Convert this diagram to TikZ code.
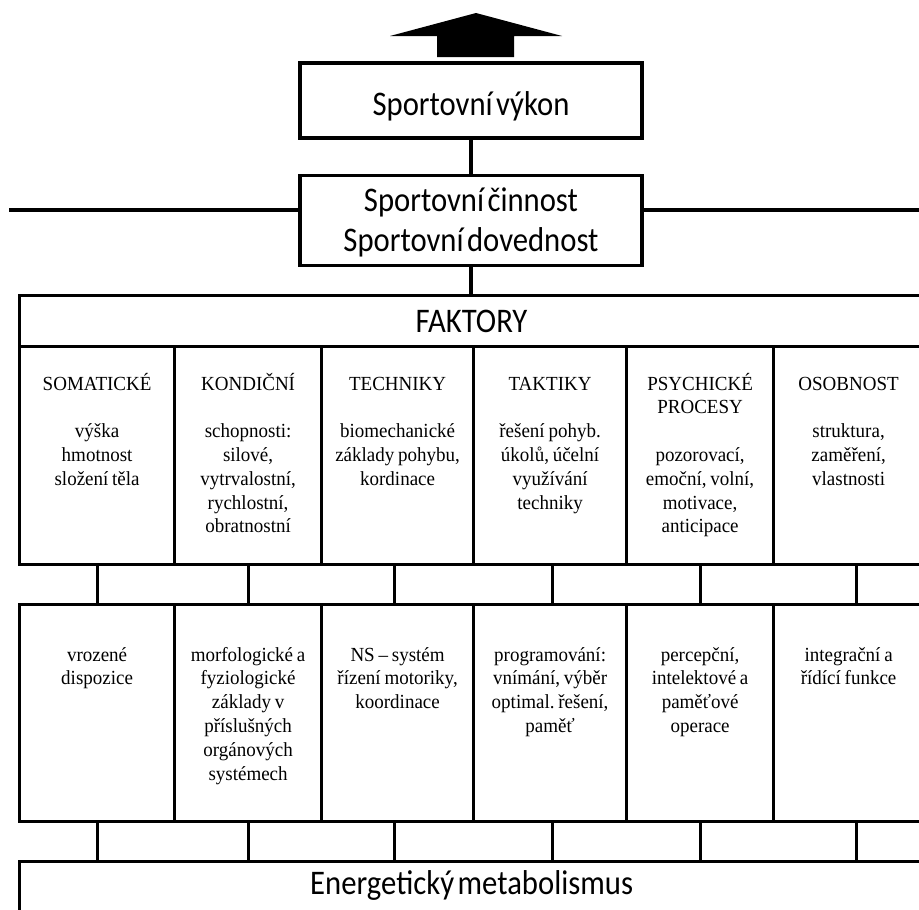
\documentclass[tikz,border=0pt]{standalone}
\usepackage{fontspec}
\setmainfont{Carlito}[FakeStretch=0.89,WordSpace=0.5]
\newfontfamily\cellserif{Liberation Serif}[FakeStretch=0.95,WordSpace=0.8]
\usetikzlibrary{positioning}
\frenchspacing
\tikzset{
  box/.style={draw=black,line width=3.2pt,inner sep=0pt},
  bigfont/.style={font=\fontsize{34.5}{40}\selectfont},
  celltext/.style={font=\cellserif\fontsize{20}{23.8}\selectfont,align=flush center,text width=150pt,inner sep=0pt,anchor=base},
  link/.style={line width=3.2pt}
}

\begin{document}
\begin{tikzpicture}[x=1pt,y=-1pt]
\useasboundingbox (0,0) rectangle (919,910);
\clip (0,0) rectangle (919,910);

% sipka
\fill (437,57) -- (437,36) -- (390,36) -- (476,13) -- (562,36) -- (514,36) -- (514,57) -- cycle;

\node[box,bigfont,minimum width=342pt,minimum height=75pt,text height=29pt,text depth=0pt] (vykon) at (471,100.5) {Sportovní výkon};
\node[box,bigfont,align=flush center,text width=300pt,minimum width=342pt,minimum height=90pt,text height=20pt,text depth=38pt,below=34pt of vykon] (cinnost) {Sportovní činnost\\Sportovní dovednost};

\coordinate (hl) at (9,210);
\coordinate (hr) at (930,210);
\draw[link] (hl) -- (hl -| cinnost.west);
\draw[link] (hr) -- (hr -| cinnost.east);
\draw[link] (vykon) -- (cinnost);

\node[box,bigfont,anchor=north west,minimum width=904pt,minimum height=51pt] (faktory) at (18,294) {FAKTORY};
\draw[link] (cinnost) -- (cinnost.south |- faktory.north);

\node[box,bigfont,anchor=north west,minimum width=904pt,minimum height=66pt,text height=10pt,text depth=10pt] (energie) at (18,860) {Energetický metabolismus};

% bunky
\foreach \i/\xa/\xb in {1/18/173,2/173/320,3/320/472,4/472/625,5/625/772,6/772/922}{
  \node[box,anchor=north west,minimum width=\xb-\xa,minimum height=218pt] (f\i) at (\xa,345) {};
  \node[box,anchor=north west,minimum width=\xb-\xa,minimum height=217pt] (p\i) at (\xa,603) {};
}

\foreach \i/\dx in {1/0,2/0,3/-3,4/2,5/0,6/8}{
  \draw[link] ([xshift=\dx pt]f\i.south) -- ([xshift=\dx pt]p\i.north);
  \draw[link] ([xshift=\dx pt]p\i.south) -- ([xshift=\dx pt]p\i.south |- energie.north);
}

\node[celltext] (t1) at ([yshift=-45pt]f1.north) {SOMATICKÉ\\[23.8pt]výška\\hmotnost\\složení těla};
\node[celltext] (t2) at ([yshift=-45pt]f2.north) {KONDIČNÍ\\[23.8pt]schopnosti:\\silové,\\vytrvalostní,\\rychlostní,\\obratnostní};
\node[celltext] (t3) at ([yshift=-45pt]f3.north) {TECHNIKY\\[23.8pt]biomechanické\\základy pohybu,\\kordinace};
\node[celltext] (t4) at ([yshift=-45pt]f4.north) {TAKTIKY\\[23.8pt]řešení pohyb.\\úkolů, účelní\\využívání\\techniky};
\node[celltext] (t5) at ([yshift=-45pt]f5.north) {PSYCHICKÉ\\PROCESY\\[23.8pt]pozorovací,\\emoční, volní,\\motivace,\\anticipace};
\node[celltext] (t6) at ([yshift=-45pt]f6.north) {OSOBNOST\\[23.8pt]struktura,\\zaměření,\\vlastnosti};

\node[celltext] (s1) at ([yshift=-58pt]p1.north) {vrozené\\dispozice};
\node[celltext] (s2) at ([yshift=-58pt]p2.north) {morfologické a\\fyziologické\\základy v\\příslušných\\orgánových\\systémech};
\node[celltext] (s3) at ([yshift=-58pt]p3.north) {NS – systém\\řízení motoriky,\\koordinace};
\node[celltext] (s4) at ([yshift=-58pt]p4.north) {programování:\\vnímání, výběr\\optimal. řešení,\\paměť};
\node[celltext] (s5) at ([yshift=-58pt]p5.north) {percepční,\\intelektové a\\paměťové\\operace};
\node[celltext] (s6) at ([yshift=-58pt]p6.north) {integrační a\\řídící funkce};

\end{tikzpicture}
\end{document}
